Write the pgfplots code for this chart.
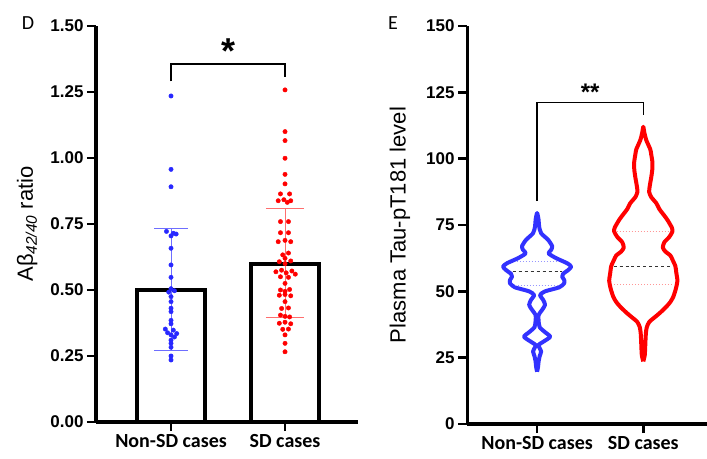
\documentclass[border=0pt]{standalone}
\usepackage{fontspec}
\setmainfont{Liberation Sans}
\newfontfamily\calibri{Carlito}
\usepackage{pgfplots}
\pgfplotsset{compat=1.18}

\definecolor{dotblue}{RGB}{40,40,255}
\definecolor{dotred}{RGB}{255,0,0}
\definecolor{ebblue}{RGB}{110,110,255}
\definecolor{ebred}{RGB}{255,110,110}
\definecolor{vblue}{RGB}{50,50,255}
\definecolor{qblue}{RGB}{150,150,255}
\definecolor{qred}{RGB}{255,150,150}

\pgfplotsset{
  panel/.style={
    scale only axis,
    anchor=south west,
    clip=false,
    axis x line=bottom, axis y line=left,
    axis line style={-, line width=3bp},
    every tick/.style={black, line width=2.5bp},
    tick align=outside,
    major tick length=9bp,
    xtick={0,1}, xticklabels={Non-SD cases, SD cases},
    xticklabel style={font=\calibri\bfseries\fontsize{20bp}{24bp}\selectfont},
    yticklabel style={font=\bfseries\fontsize{17bp}{20bp}\selectfont},
    /pgf/number format/assume math mode=true,
    ylabel style={font=\fontsize{22bp}{26bp}\selectfont, anchor=center},
  }
}

\begin{document}
\begin{tikzpicture}
\useasboundingbox (0,0) rectangle (707bp,459bp);

% ---------- panel D ----------
\begin{axis}[panel,
  at={(96bp,37bp)}, width=262bp, height=396bp,
  xmin=-0.658, xmax=1.64, ymin=0, ymax=1.5,
  ytick={0,0.25,0.5,0.75,1,1.25,1.5},
  yticklabel style={/pgf/number format/.cd, fixed, fixed zerofill, precision=2},
  ylabel={Aβ\textsubscript{\itshape 42/40} ratio},
  ylabel style={at={(axis description cs:-0.263,0.5)}},
]
\addplot[ybar, bar width=68bp, fill=white, draw=black, line width=4bp]
  coordinates {(0,0.50) (1,0.60)};

\addplot[only marks, mark=*, mark size=2.2bp, dotblue] coordinates {
(0,1.235) (0,0.957) (0,0.891) (-0.04,0.722) (0.02,0.715) (0.045,0.712) (0,0.705)
(0,0.658) (0,0.595) (0,0.548) (0,0.505) (0.03,0.497) (-0.02,0.492) (0,0.475)
(0,0.456) (0,0.431) (0,0.418) (0,0.385) (0,0.372) (-0.05,0.352) (0.02,0.348)
(0.05,0.335) (-0.03,0.338) (0,0.33) (0.03,0.322) (0,0.31) (0,0.298) (0,0.283)
(0,0.25) (0,0.235)
};
\addplot[only marks, mark=*, mark size=2.2bp, dotred] coordinates {
(1,1.258) (1,1.10) (1,1.066) (1,0.999) (1,0.938) (1,0.902) (0.96,0.864) (1.04,0.864)
(0.94,0.838) (0.99,0.842) (1.05,0.838) (1.02,0.832) (0.96,0.759) (1.03,0.759)
(0.96,0.717) (1.03,0.717) (0.94,0.683) (1.0,0.688) (1.05,0.683) (0.98,0.633)
(1.03,0.64) (1.0,0.62) (1.05,0.61) (0.95,0.607) (1.0,0.60) (0.92,0.569) (0.97,0.575)
(1.01,0.565) (1.06,0.572) (1.09,0.56) (0.96,0.55) (1.03,0.548) (1.0,0.525)
(0.96,0.50) (1.04,0.502) (1.0,0.495) (0.95,0.48) (1.0,0.483) (1.05,0.478) (1.0,0.456)
(0.97,0.43) (1.03,0.432) (0.96,0.405) (1.0,0.40) (1.04,0.398) (0.95,0.374) (1.0,0.378)
(1.05,0.372) (0.98,0.351) (1.03,0.352) (1.0,0.33) (1.0,0.298) (1.0,0.266)
};

% mean +- SD
\addplot[ebblue, line width=1bp] coordinates {(0,0.269) (0,0.733)};
\addplot[ebblue, line width=1bp] coordinates {(-0.149,0.733) (0.149,0.733)};
\addplot[ebblue, line width=1bp] coordinates {(-0.149,0.269) (0.149,0.269)};
\addplot[ebred, line width=1bp] coordinates {(1,0.395) (1,0.809)};
\addplot[ebred, line width=1bp] coordinates {(0.833,0.809) (1.167,0.809)};
\addplot[ebred, line width=1bp] coordinates {(0.833,0.395) (1.167,0.395)};

\draw[line width=2bp] (axis cs:0,1.29) -- (axis cs:0,1.356) -- (axis cs:1,1.356) -- (axis cs:1,1.307);
\node[anchor=north, inner sep=0pt, font=\bfseries\fontsize{36bp}{38bp}\selectfont]
  at (axis cs:0.5,1.452) {*};
\end{axis}

% ---------- panel E ----------
\begin{axis}[panel,
  at={(467bp,35bp)}, width=240bp, height=398bp,
  xmin=-0.66, xmax=1.6, ymin=0, ymax=150,
  ytick={0,25,50,75,100,125,150},
  ylabel={Plasma Tau-pT181 level},
  ylabel style={at={(axis description cs:-0.279,0.5)}},
]
\addplot[vblue, line width=4bp, smooth, tension=0.4, line join=round] coordinates {
(0,19.7) (0.009,21.5) (0.014,23.5) (0.024,25.5) (0.038,27.3) (0.024,28.6) (0.014,29.8)
(0.066,31.2) (0.123,32.9) (0.075,34.6) (0.024,36.5) (0.014,39) (0.014,41.1) (0.047,43)
(0.075,44.9) (0.057,46.8) (0.028,48.6) (0.075,50) (0.208,51.5) (0.255,53) (0.255,54.3)
(0.236,55.5) (0.245,56.6) (0.292,58) (0.321,59.3) (0.283,60.6) (0.179,62.5) (0.108,64.3)
(0.132,65.6) (0.142,67) (0.104,69.4) (0.038,71.9) (0.019,74.5) (0.014,77) (0,79.5)
(-0.014,77) (-0.019,74.5) (-0.038,71.9) (-0.104,69.4) (-0.142,67) (-0.132,65.6)
(-0.108,64.3) (-0.179,62.5) (-0.283,60.6) (-0.321,59.3) (-0.292,58) (-0.245,56.6)
(-0.236,55.5) (-0.255,54.3) (-0.255,53) (-0.208,51.5) (-0.075,50) (-0.028,48.6)
(-0.057,46.8) (-0.075,44.9) (-0.047,43) (-0.014,41.1) (-0.014,39) (-0.024,36.5)
(-0.075,34.6) (-0.123,32.9) (-0.066,31.2) (-0.014,29.8) (-0.024,28.6) (-0.038,27.3)
(-0.024,25.5) (-0.014,23.5) (-0.009,21.5) (0,19.7)
};
\addplot[qblue, dotted, line width=1bp] coordinates {(-0.19,61.2) (0.19,61.2)};
\addplot[qblue, dotted, line width=1bp] coordinates {(-0.21,52.1) (0.21,52.1)};
\addplot[black!80, dashed, line width=1.2bp] coordinates {(-0.23,57.6) (0.23,57.6)};

\addplot[dotred, line width=4bp, smooth, tension=0.4, line join=round] coordinates {
(1,23.6) (1.014,26) (1.019,30) (1.024,34) (1.033,36.5) (1.057,38.5) (1.113,40.4)
(1.160,42) (1.217,44.2) (1.255,46) (1.283,48) (1.307,51) (1.321,54) (1.311,57)
(1.302,59.5) (1.274,62) (1.255,63.5) (1.208,65) (1.184,66.5) (1.198,68.5) (1.245,70.5)
(1.274,72.5) (1.269,74) (1.226,77) (1.189,79) (1.151,81) (1.123,83.2) (1.075,85.5)
(1.055,87.5) (1.062,90) (1.075,93) (1.085,96) (1.085,99) (1.075,101.5) (1.066,103.5)
(1.028,107) (1.009,110) (1,112)
(0.991,110) (0.972,107) (0.934,103.5) (0.925,101.5) (0.915,99) (0.915,96) (0.925,93)
(0.938,90) (0.945,87.5) (0.925,85.5) (0.877,83.2) (0.849,81) (0.811,79) (0.774,77)
(0.731,74) (0.726,72.5) (0.755,70.5) (0.802,68.5) (0.816,66.5) (0.792,65) (0.745,63.5)
(0.726,62) (0.698,59.5) (0.689,57) (0.679,54) (0.693,51) (0.717,48) (0.745,46)
(0.783,44.2) (0.840,42) (0.887,40.4) (0.943,38.5) (0.967,36.5) (0.976,34) (0.981,30)
(0.986,26) (1,23.6)
};
\addplot[qred, dotted, line width=1bp] coordinates {(0.75,72.7) (1.25,72.7)};
\addplot[qred, dotted, line width=1bp] coordinates {(0.725,52.4) (1.275,52.4)};
\addplot[black!80, dashed, line width=1.2bp] coordinates {(0.72,59.5) (1.28,59.5)};

\draw[line width=1.5bp] (axis cs:0,84) -- (axis cs:0,121.1) -- (axis cs:1,121.1) -- (axis cs:1,116.5);
\node[anchor=north, inner sep=0pt, font=\bfseries\fontsize{24bp}{26bp}\selectfont]
  at (axis cs:0.5,128.4) {**};
\end{axis}

\node[font=\calibri\fontsize{20bp}{24bp}\selectfont] at (28bp,436bp) {D};
\node[font=\calibri\fontsize{20bp}{24bp}\selectfont] at (393bp,436bp) {E};
\end{tikzpicture}
\end{document}
